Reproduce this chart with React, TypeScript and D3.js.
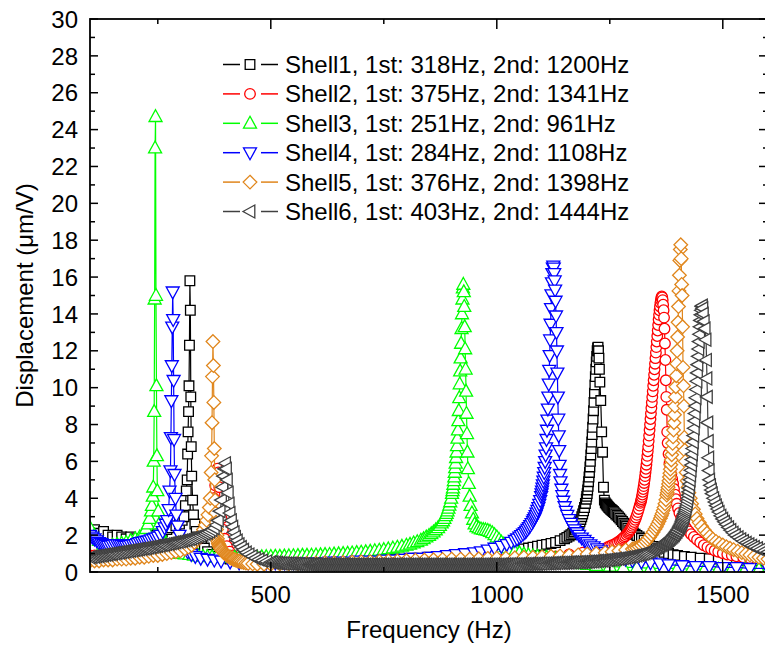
import React from 'react';
import * as d3 from 'd3';

// legend text, one entry per shell
const seriesNames = [
  'Shell1, 1st: 318Hz, 2nd: 1200Hz',
  'Shell2, 1st: 375Hz, 2nd: 1341Hz',
  'Shell3, 1st: 251Hz, 2nd: 961Hz',
  'Shell4, 1st: 284Hz, 2nd: 1108Hz',
  'Shell5, 1st: 376Hz, 2nd: 1398Hz',
  'Shell6, 1st: 403Hz, 2nd: 1444Hz'
];
const seriesColors = ['#000000', '#ff0000', '#00ff00', '#0000ff', '#e0861c', '#404040'];
const seriesShapes = ['square', 'circle', 'triUp', 'triDown', 'diamond', 'triLeft'];

const xTicks = [500, 1000, 1500];
const xMinorTicks = [250, 750, 1250];
const yTicks = [0, 2, 4, 6, 8, 10, 12, 14, 16, 18, 20, 22, 24, 26, 28, 30];
const yMinorTicks = [1, 3, 5, 7, 9, 11, 13, 15, 17, 19, 21, 23, 25, 27, 29];

// [frequency Hz, displacement um/V]
const shell1 = [[100,2.2],[110,2.3],[120,2.1],[130,2.2],[140,2.0],[150,1.9],[160,2.0],[170,1.9],[180,1.8],[190,1.9],[200,1.8],[210,1.8],[220,1.9],[230,1.9],[240,2.0],[250,2.1],[260,2.2],[270,2.3],[280,2.4],[290,2.5],[298,2.6],[304,2.8],[308,3.0],[311,3.6],[313,4.4],[315,5.0],[316,6.4],[317,7.6],[318,8.7],[319,10.1],[320,12.3],[321,15.8],[322,14.2],[323,9.5],[324,6.8],[325,5.2],[327,3.9],[329,3.1],[332,2.6],[335,2.2],[338,1.9],[342,1.7],[347,1.5],[353,1.3],[360,1.1],[370,0.95],[380,0.85],[395,0.75],[410,0.7],[430,0.65],[450,0.6],[470,0.6],[490,0.55],[510,0.55],[530,0.55],[550,0.55],[570,0.55],[590,0.55],[610,0.55],[630,0.55],[650,0.6],[670,0.6],[690,0.6],[710,0.6],[730,0.65],[750,0.65],[770,0.7],[790,0.7],[810,0.75],[830,0.75],[850,0.8],[870,0.8],[890,0.85],[910,0.9],[930,0.95],[950,1.0],[970,1.0],[990,1.05],[1010,1.1],[1030,1.15],[1050,1.2],[1060,1.25],[1070,1.3],[1080,1.35],[1090,1.4],[1100,1.45],[1110,1.5],[1120,1.55],[1130,1.6],[1140,1.7],[1150,1.8],[1155,1.88],[1160,1.95],[1164,2.02],[1168,2.1],[1171,2.18],[1174,2.27],[1177,2.37],[1180,2.5],[1182,2.6],[1184,2.72],[1186,2.85],[1188,3.0],[1190,3.15],[1192,3.32],[1194,3.5],[1196,3.72],[1198,3.95],[1199,4.1],[1200,4.25],[1201,4.45],[1202,4.65],[1203,4.9],[1204,5.15],[1205,5.4],[1206,5.7],[1207,6.0],[1208,6.35],[1209,6.7],[1210,7.05],[1211,7.45],[1212,7.85],[1213,8.3],[1214,8.75],[1215,9.2],[1216,9.7],[1217,10.15],[1218,10.6],[1219,11.0],[1220,11.4],[1221,11.7],[1222,12.0],[1223,12.15],[1224,12.2],[1225,12.0],[1226,11.6],[1227,11.0],[1228,10.3],[1230,9.3],[1232,7.6],[1234,6.5],[1236,4.6],[1238,3.9],[1240,3.75],[1242,3.68],[1244,3.62],[1246,3.56],[1248,3.5],[1250,3.45],[1252,3.4],[1254,3.36],[1256,3.32],[1258,3.28],[1260,3.22],[1263,3.15],[1266,3.08],[1269,3.0],[1272,2.92],[1275,2.83],[1278,2.74],[1281,2.65],[1284,2.56],[1287,2.47],[1290,2.38],[1294,2.28],[1298,2.2],[1302,2.12],[1306,2.05],[1310,1.98],[1315,1.9],[1320,1.82],[1326,1.72],[1332,1.6],[1338,1.5],[1345,1.38],[1352,1.27],[1360,1.17],[1370,1.07],[1380,1.0],[1390,0.94],[1400,0.9],[1415,0.85],[1430,0.8],[1450,0.75],[1470,0.72],[1490,0.7],[1510,0.67],[1530,0.65],[1550,0.63],[1570,0.61],[1590,0.6],[1600,0.6]];

const shell2 = [[100,0.9],[110,0.9],[120,0.9],[130,0.9],[140,0.9],[150,0.95],[160,0.95],[170,1.0],[180,1.0],[190,1.0],[200,1.05],[210,1.05],[220,1.1],[230,1.1],[240,1.15],[250,1.2],[260,1.2],[270,1.25],[280,1.3],[290,1.35],[300,1.4],[310,1.5],[320,1.55],[330,1.65],[340,1.8],[348,1.95],[355,2.2],[361,2.5],[366,2.9],[370,3.4],[374,4.0],[377,4.7],[380,5.3],[382,5.6],[384,5.4],[386,4.6],[388,3.7],[391,2.9],[394,2.3],[398,1.8],[403,1.4],[409,1.1],[416,0.9],[425,0.75],[435,0.65],[450,0.55],[470,0.5],[500,0.45],[530,0.45],[560,0.45],[590,0.45],[620,0.45],[650,0.45],[680,0.45],[710,0.45],[740,0.45],[770,0.5],[800,0.5],[830,0.5],[860,0.5],[890,0.55],[920,0.55],[950,0.6],[980,0.6],[1010,0.65],[1040,0.7],[1070,0.75],[1100,0.8],[1130,0.85],[1160,0.95],[1190,1.05],[1210,1.15],[1230,1.25],[1245,1.35],[1250,1.4],[1255,1.45],[1260,1.5],[1264,1.56],[1268,1.62],[1272,1.68],[1275,1.74],[1278,1.8],[1281,1.87],[1284,1.94],[1287,2.02],[1290,2.1],[1292,2.17],[1294,2.24],[1296,2.32],[1298,2.41],[1300,2.5],[1302,2.6],[1304,2.71],[1306,2.83],[1308,2.96],[1310,3.1],[1312,3.25],[1314,3.42],[1316,3.6],[1318,3.75],[1319,3.85],[1320,3.95],[1321,4.07],[1322,4.2],[1323,4.35],[1324,4.5],[1325,4.66],[1326,4.83],[1327,5.0],[1328,5.2],[1329,5.4],[1330,5.6],[1331,5.82],[1332,6.05],[1333,6.3],[1334,6.55],[1335,6.8],[1336,7.1],[1337,7.4],[1338,7.7],[1339,8.0],[1340,8.3],[1341,8.6],[1342,8.9],[1343,9.2],[1344,9.5],[1345,9.8],[1346,10.1],[1347,10.4],[1348,10.7],[1349,11.0],[1350,11.3],[1351,11.6],[1352,11.9],[1353,12.2],[1354,12.5],[1355,12.8],[1356,13.1],[1357,13.4],[1358,13.7],[1359,13.95],[1360,14.2],[1361,14.4],[1362,14.6],[1363,14.75],[1364,14.88],[1365,14.95],[1366,14.9],[1367,14.75],[1368,14.5],[1369,14.2],[1370,13.8],[1371,13.2],[1372,12.4],[1373,11.5],[1374,10.4],[1375,9.5],[1376,8.8],[1377,7.6],[1378,7.0],[1380,6.4],[1382,5.9],[1384,5.6],[1386,5.3],[1388,5.05],[1390,4.8],[1392,4.5],[1394,4.2],[1396,3.95],[1398,3.7],[1401,3.45],[1404,3.2],[1408,2.95],[1412,2.7],[1416,2.5],[1420,2.35],[1425,2.2],[1430,2.05],[1436,1.9],[1443,1.75],[1450,1.6],[1458,1.45],[1466,1.35],[1474,1.25],[1482,1.17],[1490,1.1],[1500,1.02],[1510,0.95],[1520,0.9],[1530,0.85],[1545,0.8],[1560,0.75],[1580,0.7],[1600,0.65]];

const shell3 = [[100,2.4],[110,2.0],[120,1.7],[130,1.5],[140,1.4],[150,1.45],[160,1.5],[170,1.55],[180,1.6],[190,1.7],[200,1.8],[210,1.9],[218,2.1],[224,2.35],[228,2.6],[232,2.9],[235,3.3],[237,3.6],[239,4.1],[240,4.6],[241,6.0],[242,8.7],[243,14.8],[244,23.0],[245,24.7],[246,15.0],[247,10.1],[248,6.3],[249,4.4],[251,3.3],[253,2.6],[256,2.1],[260,1.8],[265,1.55],[270,1.4],[276,1.3],[283,1.2],[290,1.1],[300,1.0],[310,0.97],[320,0.94],[330,0.9],[340,0.87],[350,0.85],[360,0.83],[370,0.82],[380,0.8],[390,0.8],[400,0.8],[410,0.8],[420,0.8],[430,0.8],[440,0.8],[450,0.8],[460,0.8],[470,0.8],[480,0.82],[490,0.83],[500,0.84],[510,0.85],[520,0.85],[530,0.86],[540,0.87],[550,0.88],[560,0.89],[570,0.9],[580,0.9],[590,0.91],[600,0.92],[610,0.93],[620,0.94],[630,0.95],[640,0.97],[650,0.98],[660,1.0],[670,1.01],[680,1.03],[690,1.05],[700,1.07],[710,1.09],[720,1.12],[730,1.15],[740,1.18],[750,1.21],[760,1.25],[770,1.29],[780,1.34],[790,1.39],[800,1.45],[808,1.5],[816,1.57],[824,1.64],[832,1.72],[838,1.8],[844,1.89],[850,1.98],[855,2.07],[860,2.17],[865,2.28],[870,2.4],[874,2.52],[878,2.65],[881,2.77],[884,2.9],[887,3.05],[889,3.17],[891,3.3],[893,3.45],[895,3.62],[897,3.8],[899,4.0],[901,4.25],[902,4.4],[903,4.55],[904,4.75],[905,4.95],[906,5.15],[907,5.4],[908,5.65],[909,5.9],[910,6.2],[911,6.5],[912,6.85],[913,7.25],[914,7.7],[915,8.2],[916,8.75],[917,9.45],[918,10.2],[919,10.9],[920,11.6],[921,12.4],[922,13.2],[923,14.0],[924,14.8],[925,15.4],[926,15.6],[927,15.2],[928,14.4],[929,13.3],[930,12.1],[931,11.0],[932,9.8],[933,8.6],[934,7.5],[935,6.5],[936,5.6],[938,4.8],[940,4.1],[942,3.6],[945,3.2],[948,2.85],[951,2.6],[955,2.45],[960,2.38],[965,2.33],[970,2.3],[975,2.28],[980,2.25],[985,2.2],[990,2.12],[995,2.02],[1000,1.9],[1005,1.76],[1010,1.62],[1015,1.5],[1020,1.38],[1025,1.3],[1030,1.22],[1040,1.12],[1050,1.04],[1060,0.97],[1070,0.92],[1080,0.88],[1090,0.85],[1100,0.82],[1110,0.79],[1120,0.76],[1130,0.73],[1140,0.7],[1150,0.66],[1160,0.62],[1170,0.56],[1180,0.5],[1190,0.45],[1200,0.4],[1220,0.35],[1250,0.3],[1280,0.25],[1310,0.25],[1340,0.2],[1370,0.2],[1400,0.2],[1430,0.15],[1460,0.15],[1490,0.15],[1520,0.15],[1550,0.15],[1580,0.15],[1600,0.15]];

const shell4 = [[100,2.0],[105,1.9],[110,1.8],[115,1.7],[120,1.6],[125,1.55],[130,1.5],[135,1.45],[140,1.4],[145,1.42],[150,1.45],[155,1.48],[160,1.5],[165,1.48],[170,1.45],[175,1.42],[180,1.4],[185,1.42],[190,1.45],[195,1.48],[200,1.5],[205,1.55],[210,1.6],[215,1.62],[220,1.65],[225,1.68],[230,1.7],[235,1.75],[240,1.8],[245,1.85],[250,1.9],[256,2.0],[261,2.2],[265,2.4],[268,2.6],[271,2.8],[274,3.4],[276,4.4],[278,5.5],[279,7.3],[280,9.3],[281,11.2],[282,13.3],[283,15.2],[284,13.7],[285,10.4],[286,7.2],[287,5.3],[289,4.0],[291,3.1],[294,2.5],[298,2.0],[303,1.6],[309,1.3],[316,1.1],[324,0.95],[333,0.85],[345,0.75],[360,0.7],[375,0.65],[390,0.6],[410,0.55],[430,0.5],[450,0.5],[470,0.5],[490,0.5],[510,0.5],[530,0.5],[550,0.5],[570,0.5],[590,0.5],[610,0.5],[630,0.55],[650,0.55],[670,0.55],[690,0.6],[710,0.6],[730,0.6],[750,0.65],[770,0.65],[790,0.7],[810,0.75],[830,0.75],[850,0.8],[870,0.85],[890,0.9],[910,0.95],[930,1.0],[950,1.05],[965,1.1],[980,1.2],[995,1.3],[1010,1.4],[1022,1.5],[1032,1.62],[1040,1.72],[1045,1.8],[1050,1.9],[1054,1.98],[1058,2.06],[1062,2.15],[1065,2.23],[1068,2.32],[1071,2.42],[1074,2.52],[1077,2.63],[1080,2.75],[1082,2.85],[1084,2.95],[1086,3.07],[1088,3.2],[1090,3.35],[1092,3.5],[1094,3.68],[1096,3.88],[1098,4.1],[1099,4.25],[1100,4.4],[1101,4.56],[1102,4.74],[1103,4.94],[1104,5.15],[1105,5.4],[1106,5.68],[1107,6.0],[1108,6.35],[1109,6.75],[1110,7.2],[1111,7.7],[1112,8.25],[1113,8.85],[1114,9.5],[1115,10.2],[1116,10.95],[1117,11.75],[1118,12.6],[1119,13.45],[1120,14.3],[1121,15.05],[1122,15.7],[1123,16.2],[1124,16.5],[1125,16.6],[1126,16.5],[1127,16.2],[1128,15.8],[1129,15.3],[1130,14.7],[1131,13.9],[1132,13.0],[1133,12.0],[1134,10.8],[1135,9.5],[1136,8.3],[1137,7.4],[1138,6.6],[1139,5.8],[1140,5.3],[1141,4.9],[1143,4.5],[1145,4.15],[1147,3.85],[1150,3.55],[1153,3.3],[1156,3.08],[1160,2.85],[1164,2.65],[1168,2.47],[1172,2.3],[1177,2.14],[1182,2.0],[1188,1.85],[1194,1.72],[1200,1.6],[1207,1.48],[1214,1.37],[1222,1.26],[1230,1.16],[1240,1.06],[1250,0.96],[1260,0.88],[1270,0.8],[1285,0.7],[1300,0.62],[1320,0.55],[1340,0.5],[1360,0.45],[1380,0.4],[1410,0.35],[1440,0.3],[1470,0.3],[1500,0.25],[1530,0.25],[1560,0.2],[1600,0.2]];

const shell5 = [[100,0.6],[110,0.6],[120,0.6],[130,0.65],[140,0.65],[150,0.65],[160,0.7],[170,0.7],[180,0.7],[190,0.75],[200,0.75],[210,0.8],[220,0.8],[230,0.85],[240,0.9],[250,0.9],[260,0.95],[270,1.0],[280,1.05],[290,1.1],[300,1.15],[310,1.25],[318,1.35],[325,1.45],[331,1.6],[337,1.75],[342,1.9],[347,2.1],[351,2.3],[355,2.55],[358,2.8],[361,3.1],[364,3.5],[366,4.0],[368,5.4],[369,6.3],[370,8.1],[371,10.6],[372,12.5],[373,11.2],[374,9.2],[375,6.7],[376,5.0],[377,3.9],[378,3.2],[379,2.7],[380,2.3],[381,2.0],[382,1.8],[383,1.65],[384,1.55],[385,1.48],[386,1.42],[387,1.37],[388,1.32],[389,1.28],[390,1.24],[392,1.17],[394,1.11],[396,1.05],[398,1.0],[400,0.96],[402,0.92],[404,0.88],[406,0.85],[408,0.82],[410,0.79],[412,0.76],[414,0.74],[416,0.71],[418,0.69],[420,0.67],[423,0.64],[426,0.61],[429,0.59],[432,0.57],[436,0.54],[440,0.52],[445,0.49],[450,0.47],[460,0.44],[470,0.42],[485,0.42],[500,0.42],[520,0.43],[540,0.44],[560,0.45],[580,0.46],[600,0.48],[620,0.5],[640,0.5],[660,0.52],[680,0.54],[700,0.55],[720,0.56],[740,0.58],[760,0.6],[780,0.6],[800,0.62],[820,0.64],[840,0.65],[860,0.66],[880,0.68],[900,0.7],[920,0.7],[940,0.7],[960,0.72],[980,0.74],[1000,0.75],[1020,0.75],[1040,0.77],[1060,0.8],[1080,0.8],[1100,0.82],[1120,0.85],[1140,0.87],[1160,0.9],[1180,0.93],[1200,0.97],[1220,1.0],[1240,1.05],[1255,1.1],[1270,1.15],[1285,1.2],[1300,1.25],[1305,1.28],[1310,1.32],[1315,1.38],[1320,1.45],[1325,1.55],[1330,1.66],[1334,1.77],[1338,1.89],[1342,2.02],[1346,2.17],[1350,2.33],[1353,2.46],[1356,2.6],[1359,2.75],[1362,2.92],[1364,3.05],[1366,3.18],[1368,3.33],[1370,3.5],[1372,3.7],[1374,3.92],[1376,4.17],[1377,4.3],[1378,4.45],[1379,4.6],[1380,4.77],[1381,4.95],[1382,5.15],[1383,5.36],[1384,5.58],[1385,5.82],[1386,6.08],[1387,6.36],[1388,6.66],[1389,6.98],[1390,7.33],[1391,7.7],[1392,8.1],[1393,8.53],[1394,9.0],[1395,9.5],[1396,10.05],[1397,10.65],[1398,11.3],[1399,12.0],[1400,12.75],[1401,13.55],[1402,14.4],[1403,15.25],[1404,16.1],[1405,16.9],[1406,17.5],[1407,17.75],[1408,17.0],[1409,15.6],[1410,15.0],[1411,13.3],[1412,11.1],[1413,10.1],[1414,9.0],[1415,7.3],[1416,6.6],[1417,6.0],[1419,5.4],[1421,4.95],[1423,4.6],[1425,4.3],[1428,4.0],[1431,3.7],[1435,3.4],[1439,3.15],[1443,2.9],[1448,2.68],[1453,2.48],[1459,2.28],[1465,2.1],[1471,1.93],[1478,1.78],[1485,1.66],[1492,1.56],[1500,1.46],[1508,1.37],[1516,1.29],[1524,1.21],[1533,1.13],[1542,1.05],[1551,0.98],[1560,0.92],[1570,0.86],[1580,0.8],[1590,0.75],[1600,0.7]];

const shell6 = [[100,0.8],[105,0.82],[110,0.84],[115,0.86],[120,0.88],[125,0.9],[130,0.92],[135,0.94],[140,0.96],[145,0.98],[150,1.0],[155,1.02],[160,1.04],[165,1.06],[170,1.08],[175,1.1],[180,1.12],[185,1.14],[190,1.16],[195,1.18],[200,1.2],[205,1.22],[210,1.24],[215,1.26],[220,1.28],[225,1.3],[230,1.33],[235,1.35],[240,1.37],[245,1.4],[250,1.42],[255,1.44],[260,1.47],[265,1.49],[270,1.52],[275,1.54],[280,1.57],[285,1.59],[290,1.62],[295,1.64],[300,1.67],[305,1.7],[310,1.73],[315,1.76],[320,1.79],[325,1.82],[330,1.86],[335,1.9],[340,1.94],[345,1.98],[350,2.03],[355,2.08],[360,2.14],[365,2.2],[370,2.28],[375,2.38],[380,2.55],[384,2.8],[388,3.3],[391,3.9],[394,4.6],[396,5.2],[398,5.6],[400,5.9],[402,5.6],[404,5.0],[406,4.3],[408,3.7],[410,3.2],[413,2.8],[416,2.45],[419,2.15],[422,1.9],[426,1.7],[430,1.5],[435,1.35],[440,1.2],[446,1.05],[452,0.95],[459,0.85],[466,0.75],[474,0.68],[482,0.62],[491,0.57],[500,0.53],[505,0.52],[510,0.5],[515,0.49],[520,0.48],[525,0.47],[530,0.46],[535,0.46],[540,0.45],[545,0.45],[550,0.44],[555,0.44],[560,0.43],[565,0.43],[570,0.42],[575,0.42],[580,0.42],[585,0.41],[590,0.41],[595,0.41],[600,0.41],[605,0.4],[610,0.4],[615,0.4],[620,0.4],[625,0.4],[630,0.4],[635,0.4],[640,0.4],[645,0.4],[650,0.4],[655,0.4],[660,0.4],[665,0.4],[670,0.4],[675,0.4],[680,0.4],[685,0.4],[690,0.4],[695,0.4],[700,0.4],[705,0.4],[710,0.4],[715,0.4],[720,0.4],[725,0.4],[730,0.4],[735,0.4],[740,0.4],[745,0.4],[750,0.4],[755,0.4],[760,0.4],[765,0.4],[770,0.4],[775,0.4],[780,0.4],[785,0.4],[790,0.4],[795,0.4],[800,0.4],[805,0.4],[810,0.4],[815,0.4],[820,0.4],[825,0.4],[830,0.4],[835,0.4],[840,0.4],[845,0.4],[850,0.4],[855,0.4],[860,0.4],[865,0.4],[870,0.4],[875,0.4],[880,0.4],[885,0.4],[890,0.4],[895,0.4],[900,0.4],[905,0.4],[910,0.4],[915,0.4],[920,0.4],[925,0.4],[930,0.4],[935,0.4],[940,0.4],[945,0.4],[950,0.4],[955,0.4],[960,0.4],[965,0.4],[970,0.4],[975,0.4],[980,0.4],[985,0.4],[990,0.4],[995,0.4],[1000,0.4],[1005,0.4],[1010,0.4],[1015,0.41],[1020,0.41],[1025,0.41],[1030,0.41],[1035,0.42],[1040,0.42],[1045,0.42],[1050,0.42],[1055,0.43],[1060,0.43],[1065,0.43],[1070,0.43],[1075,0.44],[1080,0.44],[1085,0.44],[1090,0.44],[1095,0.45],[1100,0.45],[1105,0.46],[1110,0.46],[1115,0.47],[1120,0.47],[1125,0.48],[1130,0.48],[1135,0.49],[1140,0.49],[1145,0.5],[1150,0.5],[1155,0.51],[1160,0.51],[1165,0.52],[1170,0.52],[1175,0.53],[1180,0.53],[1185,0.54],[1190,0.54],[1195,0.55],[1200,0.55],[1205,0.56],[1210,0.57],[1215,0.58],[1220,0.59],[1225,0.6],[1230,0.61],[1235,0.62],[1240,0.63],[1245,0.65],[1250,0.66],[1255,0.68],[1260,0.69],[1265,0.71],[1270,0.72],[1275,0.74],[1280,0.76],[1285,0.78],[1290,0.8],[1295,0.82],[1300,0.85],[1305,0.87],[1310,0.9],[1315,0.93],[1320,0.96],[1324,0.99],[1328,1.02],[1332,1.06],[1336,1.1],[1340,1.15],[1344,1.2],[1347,1.24],[1350,1.28],[1353,1.32],[1356,1.36],[1359,1.4],[1361,1.43],[1364,1.47],[1366,1.5],[1368,1.53],[1370,1.56],[1372,1.59],[1374,1.62],[1376,1.65],[1378,1.69],[1380,1.73],[1382,1.77],[1384,1.81],[1386,1.86],[1388,1.9],[1390,1.95],[1392,2.0],[1393,2.03],[1395,2.09],[1396,2.12],[1398,2.19],[1399,2.22],[1401,2.3],[1402,2.33],[1404,2.41],[1405,2.45],[1406,2.5],[1407,2.55],[1408,2.6],[1409,2.66],[1410,2.72],[1411,2.78],[1412,2.85],[1413,2.92],[1414,3.0],[1415,3.08],[1416,3.17],[1417,3.26],[1418,3.36],[1419,3.46],[1420,3.58],[1421,3.7],[1422,3.85],[1423,4.0],[1424,4.17],[1425,4.35],[1426,4.55],[1427,4.77],[1428,5.0],[1429,5.25],[1430,5.52],[1431,5.8],[1432,6.1],[1433,6.4],[1434,6.7],[1435,7.05],[1436,7.4],[1437,7.8],[1438,8.2],[1439,8.6],[1440,9.0],[1441,9.45],[1442,9.9],[1443,10.35],[1444,10.8],[1445,11.25],[1446,11.7],[1447,12.1],[1448,12.5],[1449,12.9],[1450,13.3],[1451,13.65],[1452,13.95],[1453,14.2],[1454,14.4],[1455,14.45],[1456,14.3],[1457,14.0],[1459,13.6],[1461,13.2],[1463,12.6],[1464,11.5],[1465,10.5],[1466,9.5],[1467,8.1],[1468,7.1],[1469,6.2],[1470,5.5],[1471,5.0],[1473,4.7],[1475,4.45],[1477,4.25],[1480,4.0],[1483,3.8],[1486,3.6],[1489,3.42],[1492,3.25],[1496,3.05],[1500,2.88],[1504,2.72],[1508,2.58],[1513,2.42],[1518,2.27],[1523,2.13],[1528,2.0],[1534,1.88],[1540,1.77],[1546,1.67],[1552,1.58],[1558,1.5],[1564,1.42],[1570,1.35],[1577,1.28],[1584,1.21],[1592,1.14],[1600,1.08]];

const allSeries = [shell1, shell2, shell3, shell4, shell5, shell6];

const W = 765;
const H = 646;
const margin = { left: 90, top: 19, right: 768, bottom: 572 };
const FONT = 'Arial, "Liberation Sans", Helvetica, sans-serif';

function markerPath(shape: string): string {
  switch (shape) {
    case 'square': return 'M-4.8,-4.8H4.8V4.8H-4.8Z';
    case 'circle': return 'M5.3,0A5.3,5.3 0 1,1 -5.3,0A5.3,5.3 0 1,1 5.3,0Z';
    case 'triUp': return 'M0,-7L6.5,4.8L-6.5,4.8Z';
    case 'triDown': return 'M0,7L6.5,-4.8L-6.5,-4.8Z';
    case 'diamond': return 'M0,-6.8L6.8,0L0,6.8L-6.8,0Z';
    case 'triLeft': return 'M-7,0L4.8,-6.5L4.8,6.5Z';
    default: return '';
  }
}

export default function App() {
  const x = d3.scaleLinear().domain([100, 1600]).range([margin.left, margin.right]);
  const y = d3.scaleLinear().domain([0, 30]).range([margin.bottom, margin.top]);
  const line = d3.line<number[]>().x(d => x(d[0])).y(d => y(d[1]));

  const legendX = 223;
  const legendY0 = 64.5;
  const legendStep = 29.4;

  return (
    <svg width={W} height={H} style={{ position: 'absolute', left: 0, top: 0, background: '#fff' }}
         fontFamily={FONT}>
      <defs>
        <clipPath id="plot-clip">
          <rect x={margin.left} y={margin.top} width={margin.right - margin.left}
                height={margin.bottom - margin.top} />
        </clipPath>
      </defs>
      <rect x={0} y={0} width={W} height={H} fill="#fff" />

      <g clipPath="url(#plot-clip)">
        {allSeries.map((data, i) => (
          <g key={i}>
            <path d={line(data) || ''} fill="none" stroke={seriesColors[i]} strokeWidth={1.2} />
            {data.map((d, j) => (
              <path key={j} d={markerPath(seriesShapes[i])}
                    transform={`translate(${x(d[0])},${y(d[1])})`}
                    fill="#fff" stroke={seriesColors[i]} strokeWidth={1.3} />
            ))}
          </g>
        ))}
      </g>

      {/* frame */}
      <rect x={margin.left} y={margin.top} width={margin.right - margin.left}
            height={margin.bottom - margin.top} fill="none" stroke="#000" strokeWidth={1.8} />

      {/* y ticks, left and right, pointing in */}
      {yTicks.map(t => (
        <g key={'y' + t}>
          <line x1={margin.left} x2={margin.left + 8} y1={y(t)} y2={y(t)} stroke="#000" strokeWidth={1.5} />
          <line x1={margin.right} x2={margin.right - 9} y1={y(t)} y2={y(t)} stroke="#000" strokeWidth={1.5} />
          <text x={margin.left - 12} y={y(t)} dy="0.36em" textAnchor="end" fontSize={24}>{t}</text>
        </g>
      ))}
      {yMinorTicks.map(t => (
        <g key={'ym' + t}>
          <line x1={margin.left} x2={margin.left + 5} y1={y(t)} y2={y(t)} stroke="#000" strokeWidth={1.5} />
          <line x1={margin.right} x2={margin.right - 5} y1={y(t)} y2={y(t)} stroke="#000" strokeWidth={1.5} />
        </g>
      ))}

      {/* x ticks, top and bottom, pointing in */}
      {xTicks.map(t => (
        <g key={'x' + t}>
          <line x1={x(t)} x2={x(t)} y1={margin.top} y2={margin.top + 10} stroke="#000" strokeWidth={1.5} />
          <line x1={x(t)} x2={x(t)} y1={margin.bottom} y2={margin.bottom - 10} stroke="#000" strokeWidth={1.5} />
          <text x={x(t)} y={603} textAnchor="middle" fontSize={24}>{t}</text>
        </g>
      ))}
      {xMinorTicks.map(t => (
        <g key={'xm' + t}>
          <line x1={x(t)} x2={x(t)} y1={margin.top} y2={margin.top + 5} stroke="#000" strokeWidth={1.5} />
          <line x1={x(t)} x2={x(t)} y1={margin.bottom} y2={margin.bottom - 5} stroke="#000" strokeWidth={1.5} />
        </g>
      ))}

      <text x={(margin.left + margin.right) / 2} y={638} textAnchor="middle" fontSize={24}>Frequency (Hz)</text>
      <text transform={`translate(33,${(margin.top + margin.bottom) / 2}) rotate(-90)`}
            textAnchor="middle" fontSize={24}>Displacement (μm/V)</text>

      {/* legend */}
      {seriesNames.map((name, i) => {
        const ly = legendY0 + i * legendStep;
        return (
          <g key={'lg' + i}>
            <line x1={legendX} x2={legendX + 17} y1={ly} y2={ly} stroke={seriesColors[i]} strokeWidth={1.5} />
            <line x1={legendX + 38} x2={legendX + 55} y1={ly} y2={ly} stroke={seriesColors[i]} strokeWidth={1.5} />
            <path d={markerPath(seriesShapes[i])} transform={`translate(${legendX + 27},${ly})`}
                  fill="#fff" stroke={seriesColors[i]} strokeWidth={1.3} />
            <text x={285} y={ly + 8.5} fontSize={24}>{name}</text>
          </g>
        );
      })}
    </svg>
  );
}
